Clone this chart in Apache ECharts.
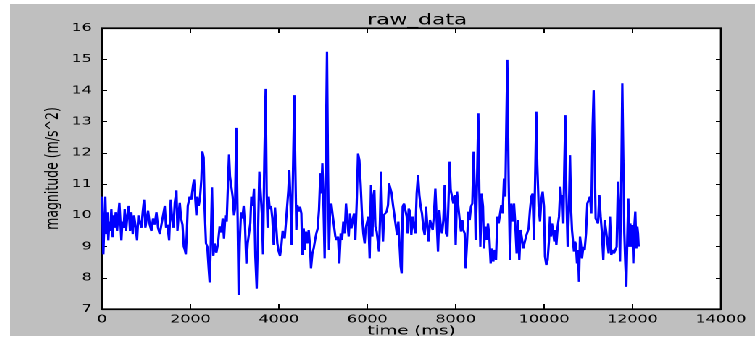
<!DOCTYPE html>
<html>
<head>
<meta charset="utf-8">
<script src="https://cdn.jsdelivr.net/npm/echarts@6/dist/echarts.min.js"></script>
<style>
  html, body { margin: 0; padding: 0; background: #fff; overflow: hidden; }
  /* the reference figure is stretched sideways, so the chart is drawn narrow and widened */
  #chart {
    position: absolute; left: 10px; top: 4px; width: 514px; height: 332px; background: #bfbfbf;
    transform: scaleX(1.4494); transform-origin: 0 0;
  }
</style>
</head>
<body>
<div id="chart"></div>
<script>
// time stamps (ms) and magnitude (m/s^2)
const timeMs = [
  0, 15, 30, 53, 75, 98, 121, 143, 166, 189, 211, 242, 264, 287, 310, 340, 362, 393, 415, 438,
  460, 491, 513, 544, 574, 604, 634, 664, 695, 725, 763, 793, 823, 853, 891, 921, 951, 981, 1012, 1042,
  1080, 1117, 1155, 1193, 1231, 1268, 1306, 1344, 1382, 1419, 1450, 1480, 1518, 1555, 1585, 1616, 1646, 1684, 1706, 1737,
  1759, 1789, 1820, 1850, 1872, 1895, 1918, 1940,
  1983, 2020, 2058, 2081, 2111, 2134, 2156, 2186, 2216, 2247, 2269, 2299, 2322, 2352, 2382, 2413, 2435, 2458, 2488, 2518,
  2548, 2586, 2624, 2661, 2699, 2729, 2759, 2790, 2820, 2850, 2873, 2895, 2925, 2955, 2986, 3008, 3038, 3068, 3091, 3114,
  3144, 3174, 3204, 3235, 3265, 3295, 3325, 3355, 3378, 3408, 3438, 3468, 3499, 3529, 3559, 3589, 3619, 3642, 3672, 3702,
  3725, 3747, 3770, 3793, 3823, 3853, 3883, 3913, 3943, 3966, 3996, 4026, 4056, 4086,
  4132, 4162, 4192, 4215, 4237, 4260, 4290, 4320, 4350, 4373, 4396, 4418, 4449, 4479, 4509, 4531, 4562, 4584, 4614, 4644,
  4675, 4705, 4727, 4758, 4788, 4818, 4848, 4878, 4908, 4939, 4961, 4984, 5006, 5036, 5067, 5089, 5112, 5134, 5157, 5187,
  5217, 5248, 5278, 5308, 5338, 5368, 5399, 5429, 5459, 5489, 5519, 5549, 5580, 5610, 5640, 5670, 5700, 5730, 5760, 5791,
  5821, 5851, 5881, 5911, 5941, 5964, 5994, 6024, 6054, 6085, 6115,
  6138, 6160, 6183, 6213, 6243, 6266, 6288, 6311, 6334, 6356, 6379, 6409, 6439, 6469, 6492, 6522, 6552, 6582, 6613, 6643,
  6673, 6703, 6733, 6756, 6778, 6801, 6831, 6861, 6892, 6914, 6937, 6967, 6997, 7027, 7057, 7088, 7118, 7148, 7178, 7208,
  7238, 7269, 7299, 7329, 7359, 7389, 7419, 7450, 7480, 7510, 7540, 7570, 7600, 7631, 7661, 7691, 7721, 7751, 7781, 7812,
  7842, 7864, 7887, 7917, 7947, 7977, 8000, 8030, 8060, 8090, 8120, 8150,
  8173, 8203, 8225, 8255, 8286, 8316, 8346, 8376, 8406, 8429, 8452, 8482, 8512, 8535, 8557, 8587, 8617, 8640, 8670, 8700,
  8730, 8761, 8791, 8821, 8851, 8881, 8912, 8942, 8972, 9002, 9032, 9062, 9093, 9123, 9145, 9168, 9198, 9228, 9258, 9288,
  9319, 9349, 9379, 9409, 9439, 9470, 9500, 9530, 9560, 9590, 9620, 9650, 9680, 9711, 9741, 9771, 9801, 9824, 9846, 9877,
  9907, 9937, 9967, 9997, 10020, 10050, 10080,
  10111, 10133, 10156, 10178, 10209, 10231, 10254, 10277, 10307, 10337, 10367, 10390, 10412, 10435, 10457, 10480, 10503, 10533, 10563, 10586,
  10608, 10631, 10654, 10676, 10699, 10721, 10744, 10767, 10789, 10812, 10834, 10857, 10887, 10917, 10948, 10978, 11008, 11038, 11068, 11098,
  11121, 11144, 11166, 11189, 11219, 11249, 11279, 11309, 11339, 11370, 11400, 11430, 11460, 11490, 11520, 11550, 11581, 11611, 11641, 11671,
  11694, 11717, 11747, 11769, 11792, 11815, 11837, 11860, 11883, 11905, 11928, 11950, 11973, 11996, 12018, 12041, 12063, 12086, 12108, 12124,
  12139
];
const magnitude = [
  10.6, 9.6, 8.75, 9.8, 10.6, 9.4, 10.1, 9.2, 9.8, 9.5, 10.2, 9.3, 10.0, 9.6, 10.1, 9.5, 9.9, 10.4, 10.45, 9.2,
  9.8, 9.6, 10.2, 9.5, 10.0, 10.3, 9.5, 10.1, 9.4, 10.0, 9.6, 9.2, 10.0, 9.8, 9.6, 10.1, 10.5, 9.6, 9.9, 10.15,
  9.7, 9.5, 9.9, 9.7, 10.1, 9.6, 9.4, 9.7, 10.0, 10.3, 9.6, 9.7, 9.2, 10.5, 9.9, 9.6, 10.4, 10.8, 9.5, 10.1,
  10.4, 9.9, 9.7, 9.0, 8.9, 8.75, 9.4, 10.3,
  10.6, 10.5, 10.95, 11.15, 10.5, 10.0, 10.6, 10.3, 10.55, 11.15, 12.05, 11.85, 10.2, 9.1, 9.0, 8.3, 7.85, 8.9, 10.9, 8.7,
  9.1, 8.8, 9.1, 9.65, 9.45, 9.9, 9.25, 10.0, 9.8, 11.05, 11.95, 11.25, 11.3, 10.6, 10.0, 10.2, 12.8, 9.9, 7.45, 9.1,
  10.1, 9.9, 10.3, 9.65, 8.45, 9.1, 9.05, 9.75, 10.6, 10.3, 10.85, 8.7, 7.65, 9.45, 11.4, 11.45, 10.0, 8.75, 11.8, 14.05,
  10.7, 9.6, 10.6, 10.2, 10.3, 9.9, 9.05, 10.25, 10.2, 9.1, 8.85, 8.7, 9.0, 9.5,
  9.26, 9.8, 9.85, 10.8, 11.45, 10.6, 9.05, 11.35, 13.85, 11.56, 9.53, 10.33, 10.12, 10.28, 10.06, 8.73, 9.58, 8.89, 9.48, 9.1,
  9.53, 9.0, 8.3, 8.78, 8.94, 9.2, 9.42, 9.58, 10.17, 11.35, 10.7, 11.67, 10.6, 8.62, 12.4, 15.24, 11.35, 8.89, 10.06, 10.38,
  10.01, 10.06, 9.32, 9.21, 9.32, 8.46, 9.42, 9.21, 9.8, 9.42, 10.38, 9.8, 9.32, 10.06, 9.58, 9.85, 10.06, 9.21, 10.38, 11.98,
  11.77, 10.97, 10.01, 9.42, 9.1, 9.58, 9.53, 9.96, 8.62, 10.97, 9.32,
  10.6, 10.81, 9.64, 9.48, 9.1, 8.84, 9.85, 11.4, 10.06, 9.16, 10.01, 10.06, 10.12, 10.33, 11.03, 11.03, 10.7, 10.33, 10.01, 10.06,
  9.37, 9.8, 8.99, 8.36, 8.14, 10.28, 10.38, 10.17, 9.96, 9.42, 10.22, 10.12, 9.37, 9.96, 9.64, 9.42, 10.7, 11.29, 10.65, 10.28,
  10.06, 9.58, 9.37, 10.28, 9.64, 9.16, 9.85, 9.85, 9.53, 10.06, 10.86, 9.85, 8.84, 10.17, 9.64, 9.42, 9.85, 10.97, 9.42, 9.32,
  10.65, 11.72, 10.81, 10.6, 10.38, 10.65, 9.05, 10.76, 10.28, 9.85, 9.48, 9.85,
  9.53, 9.42, 8.3, 9.1, 10.12, 9.85, 10.28, 10.38, 12.04, 10.92, 9.21, 11.02, 13.27, 10.81, 8.99, 10.7, 10.28, 8.94, 9.64, 9.21,
  9.74, 9.32, 8.46, 8.94, 8.52, 8.89, 8.57, 9.96, 9.74, 9.74, 10.33, 10.06, 11.18, 10.6, 12.84, 14.98, 11.13, 8.57, 10.38, 9.8,
  10.38, 9.69, 8.78, 9.85, 8.57, 9.53, 9.48, 8.94, 9.0, 9.32, 9.26, 9.58, 10.17, 10.6, 10.7, 9.21, 11.45, 13.32, 11.61, 10.28,
  9.8, 10.49, 10.76, 10.28, 8.68, 8.41, 8.57,
  9.21, 9.96, 9.32, 9.74, 9.42, 9.16, 9.53, 9.05, 9.64, 9.96, 10.92, 10.44, 10.65, 9.74, 11.56, 13.21, 10.7, 8.99, 10.28, 11.93,
  10.28, 9.53, 9.16, 8.84, 9.16, 9.05, 8.46, 8.89, 7.87, 9.32, 9.05, 8.62, 8.99, 8.89, 9.42, 10.38, 10.49, 10.6, 10.06, 12.84,
  14.01, 11.77, 9.9, 9.85, 9.74, 10.65, 9.96, 9.42, 8.57, 9.85, 9.53, 9.53, 8.78, 9.96, 8.73, 8.89, 8.78, 8.89, 8.99, 11.08,
  10.17, 8.52, 11.24, 14.23, 11.77, 9.42, 8.46, 7.71, 9.32, 10.54, 8.99, 9.74, 8.99, 9.69, 8.46, 9.64, 10.12, 8.94, 9.64, 9.42,
  9.0
];

const FONT = 'DejaVu Sans';

const chart = echarts.init(document.getElementById('chart'), null, { renderer: 'canvas', devicePixelRatio: 2 });

const axisLine = { show: true, onZero: false, lineStyle: { color: '#000', width: 1.2 } };
const xTick = { inside: true, length: 5, lineStyle: { color: '#000', width: 1 } };
const yTick = { inside: true, length: 3.5, lineStyle: { color: '#000', width: 1 } };
const plain = v => String(v);

const option = {
  animation: false,
  backgroundColor: '#bfbfbf',
  title: {
    text: 'raw_data',
    left: 276,
    top: 4,
    textAlign: 'center',
    textStyle: { fontFamily: FONT, fontSize: 15, fontWeight: 'normal', color: '#000' }
  },
  grid: {
    left: 63.5, top: 24, right: 23.5, bottom: 27,
    outerBoundsMode: 'none',
    show: true, backgroundColor: '#fff', borderColor: '#000', borderWidth: 1.2
  },
  xAxis: [
    {
      type: 'value', min: 0, max: 14000, interval: 2000,
      name: 'time (ms)', nameLocation: 'middle', nameGap: 22, nameMoveOverlap: false,
      nameTextStyle: { fontFamily: FONT, fontSize: 12.5, color: '#000', verticalAlign: 'middle' },
      axisLine: axisLine, axisTick: xTick, splitLine: { show: false },
      axisLabel: { fontFamily: FONT, fontSize: 11, color: '#000', margin: 5, formatter: plain }
    },
    {
      type: 'value', position: 'top', min: 0, max: 14000, interval: 2000,
      axisLine: axisLine, axisTick: xTick, splitLine: { show: false },
      axisLabel: { show: false }
    }
  ],
  yAxis: [
    {
      type: 'value', min: 7, max: 16, interval: 1,
      name: 'magnitude (m/s^2)', nameLocation: 'middle', nameGap: 34, nameRotate: 90, nameMoveOverlap: false,
      nameTextStyle: { fontFamily: FONT, fontSize: 12.5, color: '#000', verticalAlign: 'middle' },
      axisLine: axisLine, axisTick: yTick, splitLine: { show: false },
      axisLabel: { fontFamily: FONT, fontSize: 11, color: '#000', margin: 7, formatter: plain }
    },
    {
      type: 'value', position: 'right', min: 7, max: 16, interval: 1,
      axisLine: axisLine, axisTick: yTick, splitLine: { show: false },
      axisLabel: { show: false }
    }
  ],
  series: [
    {
      name: 'raw_data',
      type: 'line',
      xAxisIndex: 0,
      yAxisIndex: 0,
      symbol: 'none',
      smooth: false,
      lineStyle: { color: '#0000ff', width: 1.6 },
      data: timeMs.map((t, i) => [t, magnitude[i]])
    }
  ]
};

chart.setOption(option);
</script>
</body>
</html>
